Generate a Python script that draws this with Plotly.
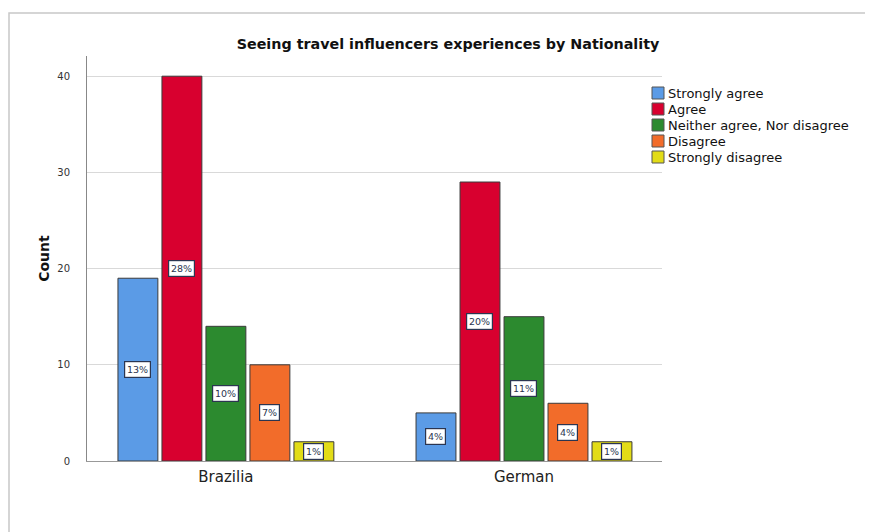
import plotly.graph_objects as go

categories = ["Brazilia", "German"]
series_names = ["Strongly agree", "Agree", "Neither agree, Nor disagree", "Disagree", "Strongly disagree"]
series_colors = ["#5B9BE6", "#D8002F", "#2C8A2F", "#F26C2A", "#E2DC17"]
strongly_agree = [19, 5]
agree = [40, 29]
neither = [14, 15]
disagree = [10, 6]
strongly_disagree = [2, 2]
pct_strongly_agree = ["13%", "4%"]
pct_agree = ["28%", "20%"]
pct_neither = ["10%", "11%"]
pct_disagree = ["7%", "4%"]
pct_strongly_disagree = ["1%", "1%"]
y_ticks = [0, 10, 20, 30, 40]

values = [strongly_agree, agree, neither, disagree, strongly_disagree]
pcts = [pct_strongly_agree, pct_agree, pct_neither, pct_disagree, pct_strongly_disagree]

FONT = "DejaVu Sans"
bargap = 0.262
bargroupgap = 0.093
n = len(series_names)
slot = (1 - bargap) / n

# page offset (browser body margin) compensation
OFF = 8
PL, PT, PW, PH = 87, 56, 575, 405  # plot area in page pixels
W, H = 873, 532


def px_to_paper_x(px):
    return (px - PL) / PW


def px_to_paper_y(py):
    return (PT + PH - py) / PH


fig = go.Figure()
annotations = []
shapes = []
for k, (name, col, vals, pc) in enumerate(zip(series_names, series_colors, values, pcts)):
    fig.add_trace(go.Bar(
        name=name, x=categories, y=vals,
        marker=dict(color=col, line=dict(color="#3a3a3a", width=1)),
        hoverinfo="x+y+name", showlegend=False,
    ))
    for i, (v, p) in enumerate(zip(vals, pc)):
        xc = i - (1 - bargap) / 2 + slot * (k + 0.5)
        annotations.append(dict(
            x=xc, y=v / 2, xref="x", yref="y", text=p, showarrow=False,
            font=dict(family=FONT, size=9.5, color="#2b3550"),
            bgcolor="white", bordercolor="#2b3550", borderwidth=1.2, borderpad=1.8,
        ))
    # legend entry
    cy = 93 + 16 * k
    shapes.append(dict(type="rect", xref="paper", yref="paper",
                       x0=px_to_paper_x(652), x1=px_to_paper_x(664),
                       y0=px_to_paper_y(cy + 6), y1=px_to_paper_y(cy - 6),
                       fillcolor=col, line=dict(color="#555", width=1)))
    annotations.append(dict(x=px_to_paper_x(666), y=px_to_paper_y(cy), xref="paper", yref="paper",
                            text=name, showarrow=False, xanchor="left", yanchor="middle",
                            font=dict(family=FONT, size=13, color="#111")))

shapes.append(dict(type="rect", xref="paper", yref="paper",
                   x0=px_to_paper_x(9), x1=px_to_paper_x(880),
                   y0=px_to_paper_y(545), y1=px_to_paper_y(13),
                   line=dict(color="#c8c8c8", width=1.5), layer="below"))

fig.update_layout(
    width=W, height=H,
    paper_bgcolor="white", plot_bgcolor="white",
    margin=dict(l=PL - OFF, r=W - (PL - OFF) - PW, t=PT - OFF, b=H - (PT - OFF) - PH),
    barmode="group", bargap=bargap, bargroupgap=bargroupgap,
    showlegend=False,
    title=dict(text="<b>Seeing travel influencers experiences by Nationality</b>",
               x=(448 - OFF) / W, xref="container", xanchor="center",
               y=1 - (44 - OFF) / H, yref="container", yanchor="middle",
               font=dict(family=FONT, size=14.3, color="#111")),
    font=dict(family=FONT, color="#222"),
    xaxis=dict(type="category", range=[-0.466, 1.463], showgrid=False,
               showline=True, linecolor="#999", linewidth=1,
               tickfont=dict(family=FONT, size=15, color="#222"), ticks="",
               ticklabelstandoff=2),
    yaxis=dict(range=[0, 42.1], tickvals=y_ticks, showgrid=True, gridcolor="#d9d9d9",
               gridwidth=1, zeroline=False, showline=True, linecolor="#888", linewidth=1,
               ticks="", ticklabelstandoff=14, tickfont=dict(family=FONT, size=10, color="#333"),
               title=dict(text="<b>Count</b>", font=dict(family=FONT, size=14, color="#111"),
                          standoff=4)),
    annotations=annotations,
    shapes=shapes,
)

fig.write_html("out.html")
